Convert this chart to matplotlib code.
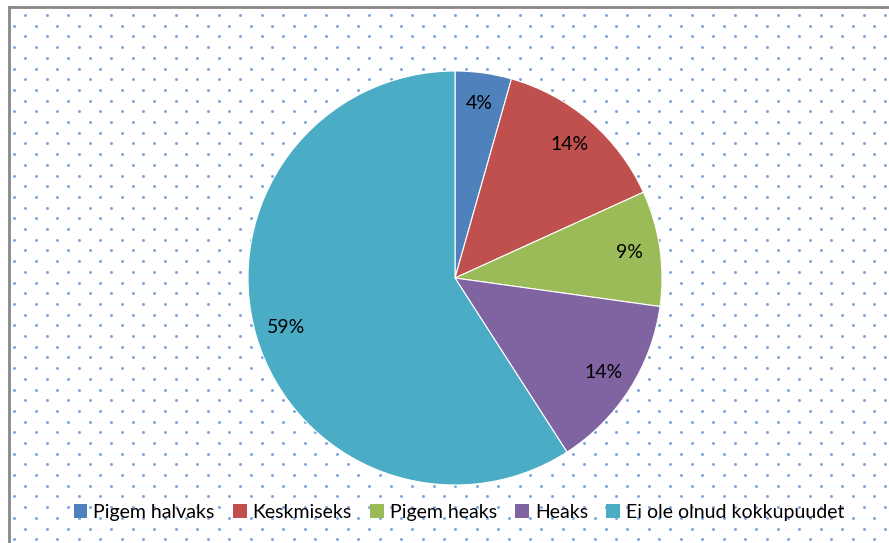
import numpy as np
import matplotlib.pyplot as plt
from matplotlib.patches import Patch
from matplotlib.lines import Line2D

# vastuste jaotus (protsent)
labels = ['Pigem halvaks', 'Keskmiseks', 'Pigem heaks', 'Heaks', 'Ei ole olnud kokkupuudet']
values = [4.4, 13.8, 9.0, 13.7, 59.1]
colors = ['#4f81bd', '#c0504d', '#9bbb59', '#8064a2', '#4bacc6']

plt.rcParams['font.family'] = ['Lato', 'DejaVu Sans']

W, H = 889, 543
fig = plt.figure(figsize=(W / 100, H / 100), dpi=100)

# taust: punktimuster
bg = fig.add_axes([0, 0, 1, 1])
bg.set_xlim(0, W)
bg.set_ylim(H, 0)
bg.axis('off')
xs, ys = [], []
for i, y in enumerate(np.arange(15, H, 10.7)):
    x0 = 25 if i % 2 == 0 else 14.3
    for x in np.arange(x0, W, 21.5):
        xs.append(x)
        ys.append(y)
bg.scatter(xs, ys, s=4.5, color='#4f86cc', alpha=0.75, linewidths=0)
# raam
bg.add_line(Line2D([9, 9], [7, H], color='#888888', lw=2))
bg.add_line(Line2D([9, W], [7, 7], color='#888888', lw=2))

cx, cy, r = 455, 278, 207
ax = fig.add_axes([(cx - r) / W, (H - cy - r) / H, 2 * r / W, 2 * r / H])
wedges, texts, autotexts = ax.pie(
    values, colors=colors, startangle=90, counterclock=False,
    autopct=lambda p: '%d%%' % round(p), pctdistance=0.85,
    wedgeprops=dict(edgecolor='white', linewidth=0.8),
    textprops=dict(fontsize=14, color='black'))
ax.set_xlim(-1, 1)
ax.set_ylim(-1, 1)
ax.set_aspect('equal')

handles = [Patch(facecolor=c, edgecolor='none') for c in colors]
fig.legend(handles, labels, loc='center', bbox_to_anchor=(459 / W, 0.057),
           ncol=5, frameon=False, fontsize=14, handlelength=0.7,
           handleheight=0.7, handletextpad=0.3, columnspacing=0.95)

fig.savefig('out.png', dpi=100)
